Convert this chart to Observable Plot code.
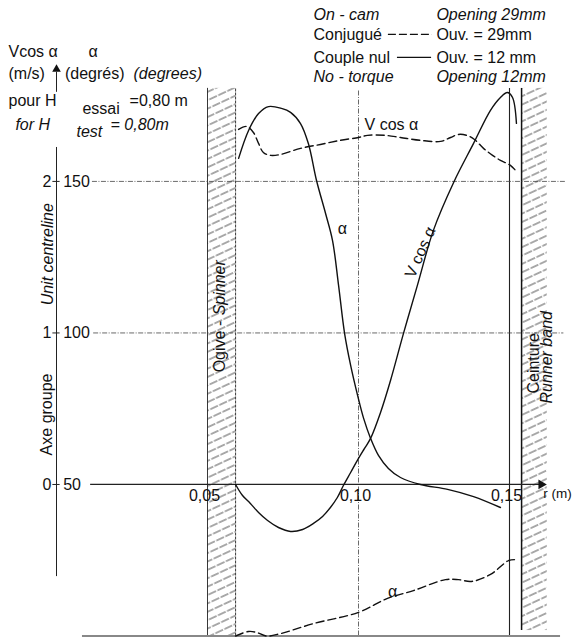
<!DOCTYPE html>
<html><head><meta charset="utf-8">
<script src="https://cdn.jsdelivr.net/npm/d3@7"></script>
<script src="https://cdn.jsdelivr.net/npm/@observablehq/plot@0.6"></script>
<style>body{margin:0;background:#fff} #chart{width:573px;height:638px}</style>
</head><body><div id="chart"></div>
<script>
// ---- Data (r in metres, α in degrees, V cos α in m/s) ----
// No-torque, opening 12 mm (solid)
const noTorqueAlphaR = [0.0603,0.0636,0.0669,0.0702,0.0745,0.0775,0.0808,0.0834,0.0861,0.0891,0.0914,0.0934,0.0954,0.0974,0.0997,0.1017,0.1040,0.1066,0.1099,0.1139,0.1205,0.1295,0.1381,0.1470];
const noTorqueAlpha  = [157.6,166.8,172.4,174.7,174.1,172.8,169.1,162.5,150.3,139.4,130.5,115.7,99.8,89.3,79.4,71.8,65.2,59.6,55.3,52.3,50.0,48.4,46.0,42.4];
const noTorqueVR   = [0.0593,0.0616,0.0642,0.0669,0.0699,0.0735,0.0775,0.0815,0.0851,0.0881,0.0907,0.0930,0.0950,0.0974,0.1000,0.1020,0.1040,0.1073,0.1106,0.1149,0.1195,0.1248,0.1315,0.1381,0.1437,0.1470,0.1493,0.1510,0.1523];
const noTorqueVcos = [0.0,-0.073,-0.125,-0.185,-0.238,-0.284,-0.310,-0.297,-0.257,-0.211,-0.152,-0.086,-0.007,0.079,0.172,0.238,0.304,0.475,0.686,0.997,1.314,1.677,1.993,2.251,2.469,2.554,2.587,2.554,2.383];
// On-cam, opening 29 mm (dashed)
const onCamVR   = [0.0603,0.0629,0.0652,0.0669,0.0685,0.0709,0.0742,0.0808,0.0874,0.0940,0.1000,0.1030,0.1089,0.1139,0.1205,0.1272,0.1305,0.1331,0.1358,0.1384,0.1414,0.1444,0.1470,0.1503,0.1526];
const onCamVcos = [2.343,2.363,2.323,2.251,2.191,2.172,2.178,2.218,2.244,2.271,2.290,2.304,2.304,2.290,2.271,2.264,2.290,2.310,2.304,2.277,2.218,2.172,2.139,2.106,2.059];
const onCamAlphaR = [0.0593,0.0636,0.0662,0.0695,0.0742,0.0851,0.1000,0.1096,0.1182,0.1288,0.1331,0.1374,0.1437,0.1497,0.1520];
const onCamAlpha  = [0.0,1.5,1.2,0.0,0.8,4.1,7.8,12.4,15.0,18.6,18.6,18.0,20.3,24.9,25.2];
// Axis ticks
const degTicks = [50,100,150];
const vTicks = [0,1,2];
const rTicks = [0.05,0.10,0.15];
const rTickLabels = ["0,05","0,10","0,15"];
// Hatched zones (spinner, runner band), r in metres
const bandNames = ["Ogive - Spinner","Ceinture - Runner band"];
const bandR1 = [0.0500,0.1540];
const bandR2 = [0.0593,0.1625];

// ---- Build tables ----
const zip = (xs, ys, k) => xs.map((x,i)=>({r:x,[k]:ys[i]}));
const ntA = zip(noTorqueAlphaR, noTorqueAlpha, "a");
const ntV = zip(noTorqueVR, noTorqueVcos, "v");
const ocV = zip(onCamVR, onCamVcos, "v");
const ocA = zip(onCamAlphaR, onCamAlpha, "a");
const vToDeg = v => 50 + 50*v;   // shared vertical scale: 1 m/s ↔ 50°
const bands = bandNames.map((n,i)=>({name:n, r1:bandR1[i], r2:bandR2[i]}));

// ---- Annotation layout (data coordinates) ----
const notes = [
  {t:"On - cam", r:0.0851, a:204.8, it:true},
  {t:"Opening 29mm", r:0.1258, a:204.8, it:true},
  {t:"Conjugué", r:0.0851, a:198.5},
  {t:"Ouv. = 29mm", r:0.1258, a:198.5},
  {t:"Couple nul", r:0.0851, a:190.9},
  {t:"Ouv. = 12 mm", r:0.1258, a:190.9},
  {t:"No - torque", r:0.0851, a:184.6, it:true},
  {t:"Opening 12mm", r:0.1258, a:184.6, it:true},
  {t:"Vcos α", r:-0.0159, a:192.6},
  {t:"α", r:0.0106, a:192.6},
  {t:"(m/s)", r:-0.0159, a:185.6},
  {t:"(degrés)", r:0.0028, a:185.6},
  {t:"(degrees)", r:0.0255, a:185.6, it:true},
  {t:"pour H", r:-0.0159, a:176.7},
  {t:"essai", r:0.0086, a:174.1},
  {t:"=0,80 m", r:0.0242, a:176.7},
  {t:"for H", r:-0.0136, a:168.8, it:true},
  {t:"test", r:0.0066, a:166.5, it:true},
  {t:"= 0,80m", r:0.0179, a:168.8, it:true},
  {t:"Unit centreline", r:-0.003, a:109.1, it:true, rot:-90},
  {t:"Axe groupe", r:-0.0033, a:59.6, rot:-90},
  {t:"Ogive -", r:0.054, a:87.0, rot:-90},
  {t:"Spinner", r:0.054, a:105.8, it:true, rot:-90},
  {t:"Ceinture", r:0.1580, a:80.0, rot:-90},
  {t:"Runner band", r:0.1623, a:76.7, it:true, rot:-90},
  {t:"α", r:0.0947, a:134.5, anchor:"middle"},
  {t:"V cos α", r:0.1109, a:168.5, anchor:"middle"},
  {t:"V cos α", r:0.1205, a:126.6, anchor:"middle", rot:-66},
  {t:"α", r:0.1113, a:14.7, anchor:"middle"},
  {t:"r (m)", r:0.1706, a:47.0, anchor:"end", size:13.5}
];

const grid = {stroke:"#444", strokeWidth:0.8, strokeDasharray:"5,1.5,1,1.5"};

const marks = [
  // hatched zones
  Plot.rect(bands, {x1:"r1", x2:"r2", y1:d=>d.r1<0.1?0:1.8, y2:180.7, fill:"url(#hatch)"}),
  Plot.ruleX([bandR1[0]], {y1:0, y2:180.7, stroke:"#222", strokeWidth:0.9}),
  Plot.ruleX([bandR2[0]], {y1:0, y2:180.7, stroke:"#222", strokeWidth:0.9, strokeDasharray:"3,1"}),
  Plot.ruleX([bandR1[1]], {y1:1.8, y2:180.7, stroke:"#111", strokeWidth:1.5}),
  // vertical grid at 0.10, 0.15
  Plot.ruleX([0.10], {y1:0, y2:180, ...grid}),
  Plot.ruleX([0.15], {y1:0, y2:180.7, stroke:"#222", strokeWidth:1.1}),
  // horizontal grid
  Plot.ruleY([150], {x1:0.0119, x2:0.1685, ...grid}),
  Plot.ruleY([100], {x1:0.0123, x2:0.1680, ...grid}),
  Plot.ruleY([50], {x1:0.0113, x2:0.1600, stroke:"#222", strokeWidth:1.2}),
  Plot.dot([0.1605], {x:d=>d, y:50, symbol:"triangle", r:3.6, fill:"#111", stroke:null, rotate:90}),
  // bottom line
  Plot.ruleY([0], {x1:0.0086, x2:0.1669, stroke:"#888", strokeWidth:2}),
  // left axis
  Plot.ruleX([0], {y1:19.6, y2:161.2, stroke:"#222", strokeWidth:1}),
  Plot.ruleX([0], {y1:179.4, y2:186, stroke:"#222", strokeWidth:1}),
  Plot.dot([0], {x:d=>d, y:187, symbol:"triangle", r:3.2, fill:"#111", stroke:null}),
  Plot.ruleY(degTicks, {x1:-0.0012, x2:0.0012, stroke:"#222"}),
  Plot.text(vTicks, {x:-0.0017, y:vToDeg, text:d=>String(d), textAnchor:"end", fontSize:16}),
  Plot.text(degTicks, {x:0.0022, y:d=>d, text:d=>String(d), textAnchor:"start", fontSize:16}),
  Plot.text(rTicks, {x:d=>d, y:46.4, text:(d,i)=>rTickLabels[i], textAnchor:"middle", dx:-3, fontSize:16}),
  // curves
  Plot.line(ntA, {x:"r", y:"a", stroke:"#111", strokeWidth:1.4, curve:"catmull-rom"}),
  Plot.line(ntV, {x:"r", y:d=>vToDeg(d.v), stroke:"#111", strokeWidth:1.4, curve:"catmull-rom"}),
  Plot.line(ocV, {x:"r", y:d=>vToDeg(d.v), stroke:"#111", strokeWidth:1.4, strokeDasharray:"8,4", curve:"catmull-rom"}),
  Plot.line(ocA, {x:"r", y:"a", stroke:"#111", strokeWidth:1.4, strokeDasharray:"8,4", curve:"catmull-rom"}),
  // legend samples
  Plot.ruleY([198.5], {x1:0.1099, x2:0.1245, stroke:"#111", strokeWidth:1.3, strokeDasharray:"8,3"}),
  Plot.ruleY([190.9], {x1:0.1129, x2:0.1242, stroke:"#111", strokeWidth:1.3}),
  // annotations
  ...notes.map(n => Plot.text([n], {x:"r", y:"a", text:"t",
      textAnchor: n.anchor || "start", fontStyle: n.it ? "italic" : "normal",
      rotate: n.rot || 0, fontSize: n.size || 16, fill:"#111"}))
];

const chart = Plot.plot({
  width:573, height:638,
  marginLeft:56, marginRight:3.6, marginTop:90, marginBottom:2.5,
  x:{domain:[0,0.17], axis:null},
  y:{domain:[0,180], axis:null},
  style:{fontFamily:"'Liberation Sans', Arial, sans-serif", fontSize:"16px", background:"#fff", color:"#111", overflow:"visible"},
  marks
});

// hatch pattern definition
const ns = "http://www.w3.org/2000/svg";
const defs = document.createElementNS(ns, "defs");
defs.innerHTML = '<pattern id="hatch" patternUnits="userSpaceOnUse" width="10" height="7.6" patternTransform="rotate(-25)"><line x1="0" y1="3.8" x2="10" y2="3.8" stroke="#2a2a2a" stroke-width="0.8" stroke-dasharray="6,1.5"/></pattern>';
chart.insertBefore(defs, chart.firstChild);
document.getElementById("chart").appendChild(chart);
</script>
</body></html>
